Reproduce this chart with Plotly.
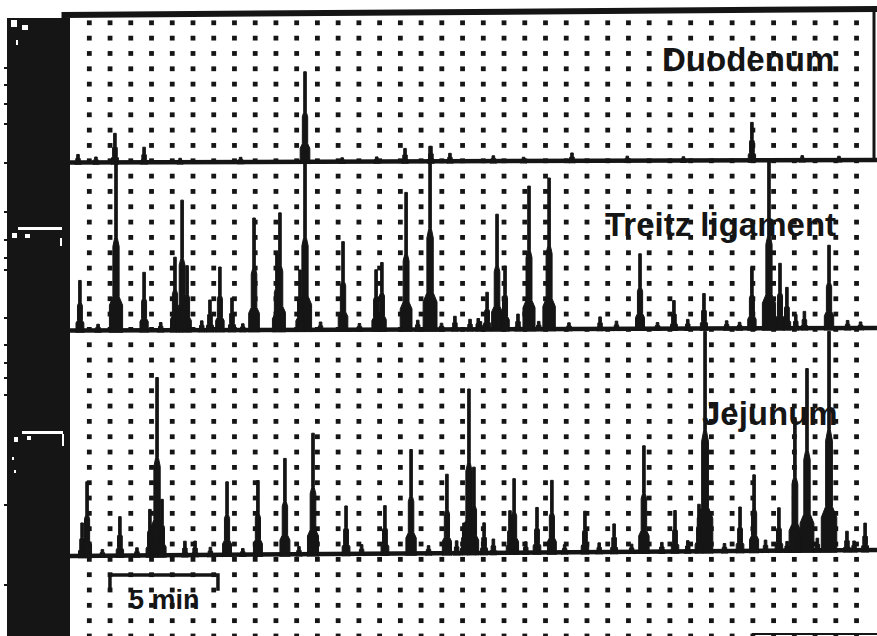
import plotly.graph_objects as go

# ---------------- data ----------------
# time in minutes, amplitude in chart-paper divisions above each channel's baseline
channel_names = ["Duodenum", "Treitz ligament", "Jejunum"]

duodenum_times = [0.37, 2.08, 3.43, 10.88, 15.51, 16.71, 17.59, 23.24, 31.57]
duodenum_amps = [0.52, 1.89, 0.98, 5.87, 0.85, 0.98, 0.52, 0.52, 2.48]

treitz_times = [0.46, 2.13, 3.43, 4.86, 5.19, 5.42, 6.48, 6.94, 7.50, 8.52,
                9.58, 9.72, 10.65, 10.88, 12.64, 14.17, 14.44, 15.56, 16.67, 17.82,
                18.52, 19.31, 19.77, 20.14, 20.74, 21.25, 22.18, 24.54, 26.39, 27.96,
                29.35, 31.57, 32.36, 32.87, 33.19, 35.14]
treitz_amps = [3.26, 10.96, 3.78, 4.76, 8.48, 4.2, 1.96, 4.11, 2.09, 7.3,
               4.89, 7.63, 3.9, 10.96, 5.74, 3.9, 4.37, 8.94, 11.94, 0.85,
               0.65, 2.41, 7.5, 4.11, 0.98, 9.33, 9.85, 0.78, 4.89, 1.83,
               2.28, 3.98, 10.96, 4.24, 2.67, 5.41]

jejunum_times = [0.56, 0.79, 2.31, 3.70, 4.03, 4.26, 5.32, 5.79, 7.27, 8.70,
                 9.95, 11.25, 12.78, 14.58, 15.79, 17.45, 18.24, 18.47, 18.70, 19.17,
                 20.37, 20.56, 21.62, 22.31, 23.84, 25.19, 26.57, 28.01, 29.12, 29.40,
                 31.02, 31.67, 32.82, 33.56, 34.12, 35.14, 35.97, 36.81]
jejunum_amps = [2.15, 4.83, 2.54, 3.0, 11.6, 3.65, 0.91, 0.91, 4.76, 4.83,
                6.26, 7.89, 3.13, 3.13, 6.78, 5.15, 1.96, 10.7, 5.6, 1.96,
                2.74, 4.83, 2.94, 4.7, 2.67, 1.83, 6.91, 2.67, 3.07, 14.35,
                2.87, 4.96, 2.8, 8.68, 11.87, 14.29, 1.24, 1.76]

# small baseline ripples
duodenum_ripple_times = [1.2, 5.1, 7.9, 12.6, 14.2, 19.6, 21.0, 25.8, 28.4, 33.9, 35.6]
duodenum_ripple_amps = [0.35, 0.25, 0.3, 0.25, 0.3, 0.35, 0.25, 0.3, 0.25, 0.3, 0.25]
treitz_ripple_times = [1.3, 4.2, 6.1, 8.0, 11.6, 13.4, 16.1, 17.2, 18.9, 19.0, 21.7, 23.1, 25.3,
                       27.2, 28.6, 30.4, 31.0, 33.6, 34.0, 36.0, 36.6]
treitz_ripple_amps = [0.4, 0.5, 0.6, 0.4, 0.5, 0.4, 0.6, 0.4, 0.7, 0.5, 0.5, 0.4, 0.5,
                      0.4, 0.6, 0.5, 0.4, 0.9, 1.1, 0.5, 0.4]
jejunum_ripple_times = [1.5, 3.1, 6.5, 8.0, 10.6, 13.5, 16.6, 17.9, 19.6, 21.1, 22.9, 24.5,
                        26.0, 27.4, 28.6, 30.3, 32.2, 33.2, 34.6, 36.3]
jejunum_ripple_amps = [0.4, 0.5, 0.5, 0.4, 0.5, 0.6, 0.5, 0.8, 0.9, 0.7, 0.5, 0.6,
                       0.5, 0.6, 0.7, 0.5, 0.7, 0.6, 0.8, 0.6]

baseline_left = [30.89, 19.93, 5.22]
baseline_right = [31.05, 20.09, 5.61]

record_start_min = 0.0
record_end_min = 37.36
scale_bar_min = 5

# chart paper grid (minutes / divisions)
grid_x_start = 0.894
grid_x_step = 0.96
grid_x_count = 38
grid_rows = list(range(0, 41))

# ---------------- figure ----------------
W, H = 877, 636
X_RANGE = [-3.2407, 37.361]
Y_RANGE = [0.0, 41.487]
INK = "#151515"


def px_x(p):
    return p / W


def px_y(p):
    return 1 - p / H


fig = go.Figure()

# dotted chart paper
gx, gy = [], []
for k in range(grid_x_count):
    for r in grid_rows:
        gx.append(grid_x_start + grid_x_step * k)
        gy.append(r)
fig.add_trace(go.Scatter(x=gx, y=gy, mode="markers",
                         marker=dict(symbol="square", size=4.8, color=INK, line=dict(width=0)),
                         hoverinfo="skip"))


def spike_polygons(times, amps, b0, b1, t0, t1):
    xs, ys = [], []
    for t, a in zip(times, amps):
        base = b0 + (b1 - b0) * (t - t0) / (t1 - t0)
        wt = 0.06
        wm = 0.10 + 0.004 * a
        wb = 0.13 + 0.016 * a
        xs += [t - wb, t - wb, t - wm, t - wm, t - wt, t - wt, t + wt, t + wt, t + wm, t + wm, t + wb, t + wb, None]
        ys += [base - 0.15, base + 0.15 * a, base + 0.2 * a, base + 0.5 * a, base + 0.55 * a, base + a,
               base + a, base + 0.55 * a, base + 0.5 * a, base + 0.2 * a, base + 0.15 * a, base - 0.15, None]
    return xs, ys


series = [
    (duodenum_times + duodenum_ripple_times, duodenum_amps + duodenum_ripple_amps),
    (treitz_times + treitz_ripple_times, treitz_amps + treitz_ripple_amps),
    (jejunum_times + jejunum_ripple_times, jejunum_amps + jejunum_ripple_amps),
]
for i, (ts, am) in enumerate(series):
    # thick baseline
    fig.add_trace(go.Scatter(x=[record_start_min, record_end_min],
                             y=[baseline_left[i], baseline_right[i]], mode="lines",
                             line=dict(color=INK, width=4.5), hoverinfo="skip"))
    xs, ys = spike_polygons(ts, am, baseline_left[i], baseline_right[i], record_start_min, record_end_min)
    fig.add_trace(go.Scatter(x=xs, y=ys, mode="lines", name=channel_names[i], fill="toself",
                             fillcolor=INK, line=dict(color=INK, width=1), hoverinfo="skip"))

# 5 min scale bar
sb_x0 = 1.85
fig.add_trace(go.Scatter(x=[sb_x0, sb_x0, sb_x0 + scale_bar_min, sb_x0 + scale_bar_min],
                         y=[2.95, 3.98, 3.98, 2.95], mode="lines",
                         line=dict(color=INK, width=3.5), hoverinfo="skip"))

shapes = []
# black strip on the left
shapes.append(dict(type="rect", xref="paper", yref="paper", x0=px_x(7), x1=px_x(70),
                   y0=px_y(636), y1=px_y(18), fillcolor=INK, line=dict(width=0)))
# frame: top border, right border of top box, bottom-right piece
shapes.append(dict(type="line", xref="paper", yref="paper", x0=px_x(63), x1=px_x(877),
                   y0=px_y(15), y1=px_y(9), line=dict(color=INK, width=6)))
shapes.append(dict(type="line", xref="paper", yref="paper", x0=px_x(63), x1=px_x(63),
                   y0=px_y(12), y1=px_y(20), line=dict(color=INK, width=3)))
shapes.append(dict(type="line", xref="paper", yref="paper", x0=px_x(874), x1=px_x(874),
                   y0=px_y(9), y1=px_y(161), line=dict(color=INK, width=3)))
shapes.append(dict(type="line", xref="paper", yref="paper", x0=px_x(752), x1=px_x(877),
                   y0=px_y(634), y1=px_y(634), line=dict(color=INK, width=2)))
# white calibration marks inside the strip
for (x0, x1, y0, y1) in [(18, 62, 227, 230), (12, 17, 233, 238), (25, 30, 234, 238),
                         (60, 62, 238, 246), (22, 63, 431, 434), (14, 18, 437, 442),
                         (27, 31, 436, 440), (62, 64, 434, 446), (11, 17, 20, 27),
                         (22, 28, 25, 30), (16, 18, 40, 45), (12, 14, 457, 460), (14, 16, 470, 473)]:
    shapes.append(dict(type="rect", xref="paper", yref="paper", x0=px_x(x0), x1=px_x(x1),
                       y0=px_y(y1), y1=px_y(y0), fillcolor="white", line=dict(width=0)))
# small ticks at left edge
for yy in [68, 85, 104, 124, 163, 212, 240, 258, 270, 318, 345, 363, 378, 395, 505, 585]:
    shapes.append(dict(type="line", xref="paper", yref="paper", x0=px_x(4), x1=px_x(8),
                       y0=px_y(yy), y1=px_y(yy), line=dict(color=INK, width=2)))

label_font = dict(family="Liberation Sans, Arial, sans-serif", size=33, color=INK, weight="bold")
annotations = [
    dict(text="Duodenum", x=px_x(836), y=px_y(59), xref="paper", yref="paper",
         xanchor="right", yanchor="middle", showarrow=False, font=label_font),
    dict(text="Treitz ligament", x=px_x(838), y=px_y(225), xref="paper", yref="paper",
         xanchor="right", yanchor="middle", showarrow=False, font=label_font),
    dict(text="Jejunum", x=px_x(840), y=px_y(413), xref="paper", yref="paper",
         xanchor="right", yanchor="middle", showarrow=False, font=label_font),
    dict(text="5 min", x=px_x(164), y=px_y(600), xref="paper", yref="paper",
         xanchor="center", yanchor="middle", showarrow=False,
         font=dict(family="Liberation Sans, Arial, sans-serif", size=27, color=INK, weight="bold")),
]

fig.update_layout(
    width=W, height=H, margin=dict(l=0, r=0, t=0, b=0, pad=0),
    paper_bgcolor="white", plot_bgcolor="white", showlegend=False,
    xaxis=dict(range=X_RANGE, visible=False, fixedrange=True),
    yaxis=dict(range=Y_RANGE, visible=False, fixedrange=True),
    shapes=shapes, annotations=annotations,
)

fig.write_html("out.html", config={"displayModeBar": False})
